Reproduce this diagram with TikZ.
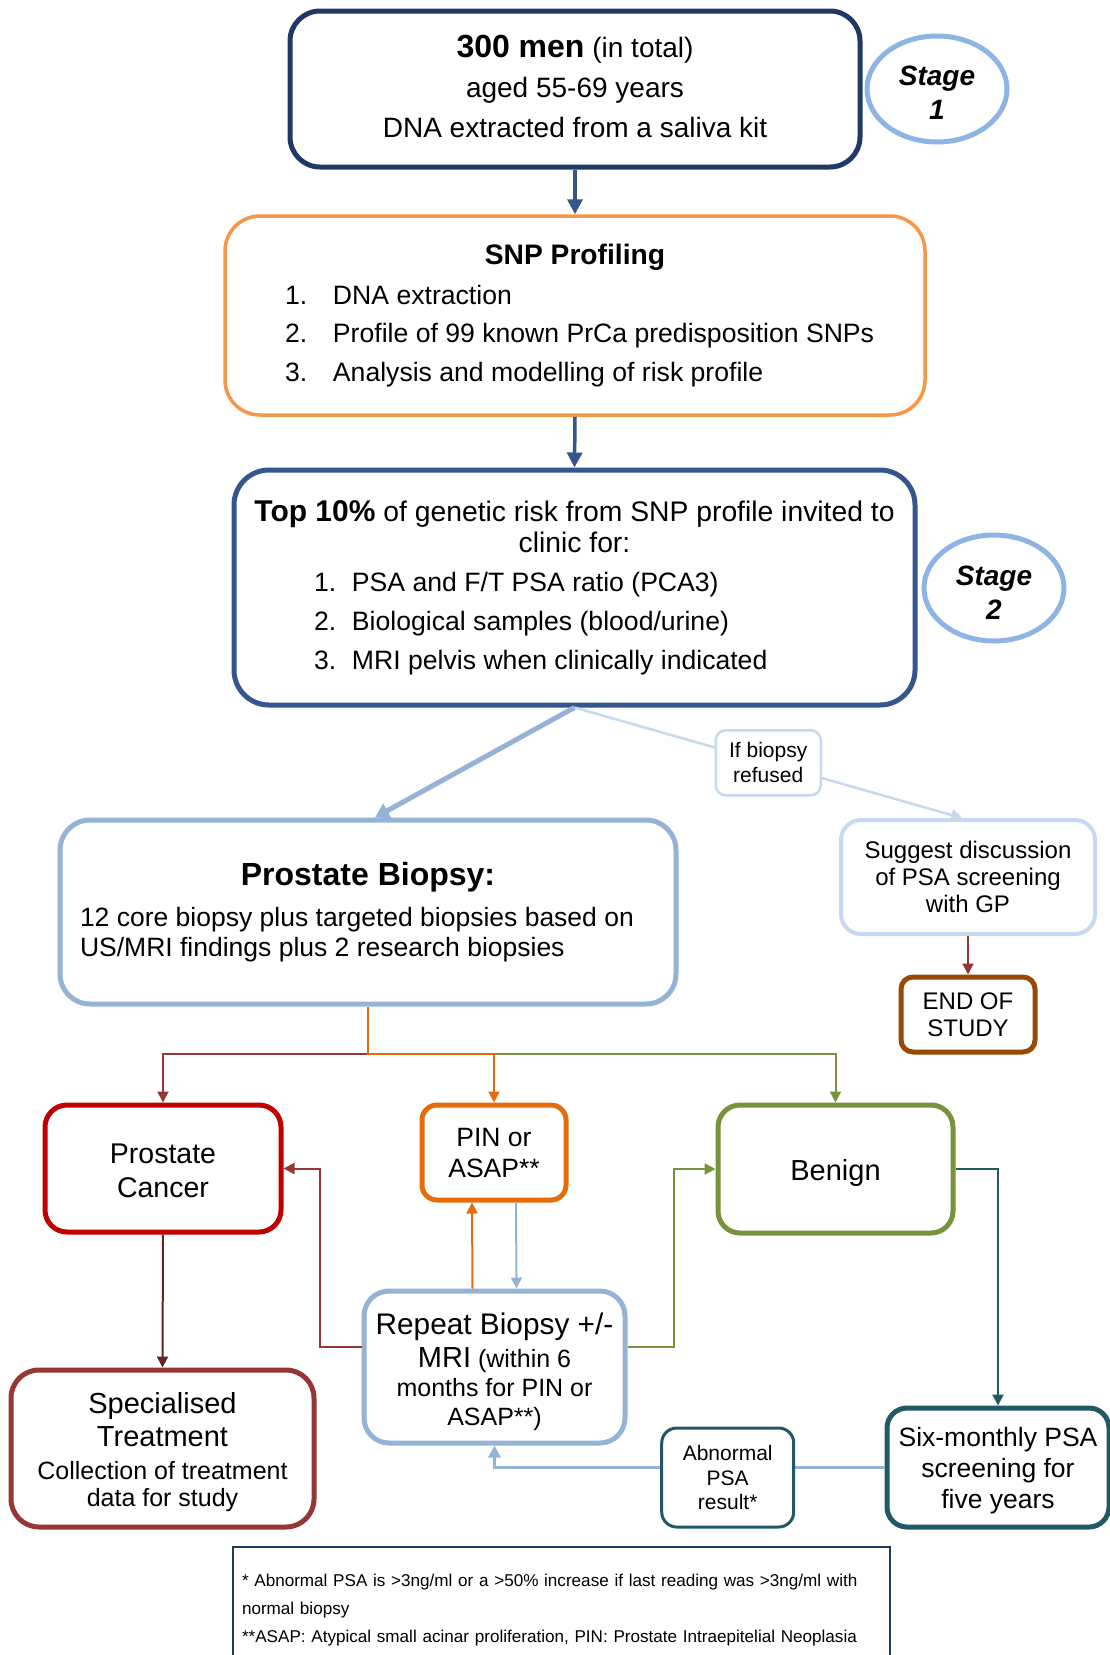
\documentclass[tikz,border=0pt]{standalone}
\usepackage{fontspec}
\setmainfont{Liberation Sans}
\usetikzlibrary{arrows.meta,shapes.geometric,calc}
\definecolor{cnavy}{RGB}{31,56,100}
\definecolor{cblue}{RGB}{52,86,140}
\definecolor{corange}{RGB}{247,150,70}
\definecolor{cstage}{RGB}{142,180,227}
\definecolor{clblue}{RGB}{149,179,215}
\definecolor{cpale}{RGB}{198,217,241}
\definecolor{cbrown}{RGB}{152,72,7}
\definecolor{cred}{RGB}{192,0,0}
\definecolor{cpin}{RGB}{228,108,10}
\definecolor{cgreen}{RGB}{119,147,60}
\definecolor{cmaroon}{RGB}{149,55,53}
\definecolor{cdkred}{RGB}{99,37,35}
\definecolor{cteal}{RGB}{33,89,103}
\newcommand{\fs}[2]{\fontsize{#1}{#2}\selectfont}
\newcommand{\listline}[4]{\makebox[#1][l]{\makebox[#2][l]{#3}#4}}
\begin{document}
\begin{tikzpicture}[x=1pt,y=-1pt,
  box/.style={draw, fill=white, inner sep=0pt, align=center},
  stagecirc/.style={ellipse, draw=cstage, line width=5pt, fill=white, minimum width=140pt, minimum height=106pt, inner sep=0pt, align=center, font=\fs{28}{34}\bfseries\itshape},
  conn/.style={line width=2pt, -{Triangle[length=11pt,width=11pt]}},
  navyarrow/.style={draw=cblue, line width=3.5pt, -{Triangle[length=15pt,width=15pt]}},
]
\useasboundingbox (0,0) rectangle (1110,1655);
\clip (0,0) rectangle (1110,1655);

% top box
\node[box, draw=cnavy, line width=5pt, rounded corners=30pt, minimum width=570pt, minimum height=156pt, font=\fs{28}{40}] (b1) at (575,89)
 {{\fs{32}{40}\bfseries 300 men} (in total)\\aged 55-69 years\\DNA extracted from a saliva kit\rule[-6pt]{0pt}{6pt}};
\node[stagecirc] (s1) at (937,89) {\rule{0pt}{27pt}Stage\\1};

% SNP profiling
\node[box, draw=corange, line width=3.5pt, rounded corners=35pt, minimum width=700pt, minimum height=199pt, font=\fs{26.6}{38.5}] (b2) at (575,315.5)
 {\fs{28.2}{38.5}\bfseries SNP Profiling\\[1.5pt]
  \listline{580pt}{48pt}{1.}{DNA extraction}\\
  \listline{580pt}{48pt}{2.}{Profile of 99 known PrCa predisposition SNPs}\\
  \listline{580pt}{48pt}{3.}{Analysis and modelling of risk profile}};

% Top 10%
\node[box, draw=cblue, line width=5pt, rounded corners=35pt, minimum width=681pt, minimum height=235pt, font=\fs{28.3}{31}] (b3) at (574.5,587.5)
 {{\fs{30}{31}\bfseries Top 10\%} of genetic risk from SNP profile invited to\\clinic for:\\[8pt]
  \fs{26.6}{31}\listline{521pt}{38pt}{1.}{PSA and F/T PSA ratio (PCA3)}\\[8pt]
  \fs{26.6}{31}\listline{521pt}{38pt}{2.}{Biological samples (blood/urine)}\\[8pt]
  \fs{26.6}{31}\listline{521pt}{38pt}{3.}{MRI pelvis when clinically indicated}};
\node[stagecirc] (s2) at (994,588) {\rule{0pt}{28pt}Stage\\2};

% Prostate biopsy
\node[box, draw=clblue, line width=5pt, rounded corners=30pt, minimum width=616pt, minimum height=184pt, font=\fs{26.5}{30}] (pb) at (368,912)
 {\fs{32}{30}\bfseries Prostate Biopsy:\\[11pt]
  \makebox[576pt][l]{12 core biopsy plus targeted biopsies based on}\\
  \makebox[576pt][l]{US/MRI findings plus 2 research biopsies}};

% refused branch
\node[box, draw=cpale, line width=4pt, rounded corners=20pt, minimum width=254pt, minimum height=114pt, font=\fs{24}{27}] (sug) at (968,877)
 {Suggest discussion\\of PSA screening\\with GP};
\node[box, draw=cbrown, line width=5pt, rounded corners=12pt, minimum width=134pt, minimum height=75pt, font=\fs{24}{27}] (endst) at (968,1014.5)
 {END OF\\STUDY};

% outcomes
\node[box, draw=cred, line width=5pt, rounded corners=22pt, minimum width=236pt, minimum height=127pt, font=\fs{28.5}{34}] (pc) at (163,1168.5)
 {\rule{0pt}{25pt}Prostate\\Cancer};
\node[box, draw=cpin, line width=5pt, rounded corners=15pt, minimum width=144pt, minimum height=95pt, font=\fs{26.5}{31}] (pin) at (494,1152.5)
 {PIN or\\ASAP**};
\node[box, draw=cgreen, line width=5pt, rounded corners=22pt, minimum width=235pt, minimum height=128pt, font=\fs{29}{34}] (ben) at (835.5,1169)
 {\rule{0pt}{29pt}Benign};
\node[box, draw=clblue, line width=5pt, rounded corners=25pt, minimum width=261pt, minimum height=152pt, font=\fs{25}{29}] (rep) at (494.5,1367)
 {\fs{29.8}{29}\rule{0pt}{31pt}Repeat Biopsy +/-\\[4pt]
  {\fs{29}{29}MRI} (within 6\\
  months for PIN or\\
  ASAP**)};
\node[box, draw=cmaroon, line width=5pt, rounded corners=28pt, minimum width=303pt, minimum height=157pt, font=\fs{25}{27}] (spec) at (162.5,1448.5)
 {\fs{29}{27}\rule{0pt}{28pt}Specialised\\[6pt]\fs{29}{27}Treatment\\[6pt]
  Collection of treatment\\data for study};
\node[box, draw=cteal, line width=5pt, rounded corners=20pt, minimum width=222pt, minimum height=119pt, font=\fs{26.5}{31}] (six) at (998,1467.5)
 {\rule{0pt}{26pt}Six-monthly PSA\\screening for\\five years};

% footnote
\node[draw=cnavy, line width=2pt, anchor=north west, inner xsep=9pt, inner ysep=0pt, text width=639pt, align=left, font=\fs{17.1}{28}] (note) at (232,1546)
 {\rule{0pt}{39.5pt}* Abnormal PSA is >3ng/ml or a >50\% increase if last reading was >3ng/ml with\\{}normal biopsy\\{}**ASAP: Atypical small acinar proliferation, PIN: Prostate Intraepitelial Neoplasia\rule[-40pt]{0pt}{40pt}};

% connectors
\draw[navyarrow] (b1.south) -- (b2.north);
\draw[navyarrow] (b2.south) -- (b3.north);
\draw[draw=clblue, line width=5pt, -{Triangle[length=14pt,width=16pt]}] (b3.south) -- ([xshift=7pt]pb.north);
\draw[draw=cpale, line width=2.5pt, -{Triangle[length=11pt,width=12pt]}] (b3.south) --
  node[box, draw=cpale, line width=2.5pt, rounded corners=10pt, minimum width=105pt, minimum height=65pt, pos=0.5, font=\fs{21}{25}] (ifref) {If biopsy\\refused}
  ([xshift=-6pt]sug.north);
\draw[conn, draw=cmaroon] (sug.south) -- (endst.north);

\draw[conn, draw=cmaroon] (pb.south) -- ++(0,47) -| (pc.north);
\draw[conn, draw=cgreen] (pb.south) -- ++(0,47) -| (ben.north);
\draw[conn, draw=cpin] (pb.south) -- ++(0,47) -| (pin.north);

\draw[conn, draw=cdkred] (pc.south) -- (spec.north);
\draw[conn, draw=cpin] ([xshift=-22pt]rep.north) -- ([xshift=-22pt]pin.south);
\draw[conn, draw=clblue] ([xshift=22pt]pin.south) -- ([xshift=22pt]rep.north);
\draw[conn, draw=cmaroon] ([yshift=20pt]rep.west) -- ++(-42,0) |- (pc.east);
\draw[conn, draw=cgreen] ([yshift=20pt]rep.east) -- ++(46,0) |- (ben.west);
\draw[conn, draw=cteal] (ben.east) -| (six.north);
\draw[draw=clblue, line width=3.5pt, -{Triangle[length=12pt,width=12pt]}] (six.west) --
  node[box, draw=cteal, line width=3pt, rounded corners=15pt, minimum width=132pt, minimum height=99pt, pos=0.402, yshift=-10pt, font=\fs{21}{24.5}] (abn) {Abnormal\\PSA\\result*}
  (six.west -| rep.south) -- (rep.south);
\end{tikzpicture}
\end{document}
